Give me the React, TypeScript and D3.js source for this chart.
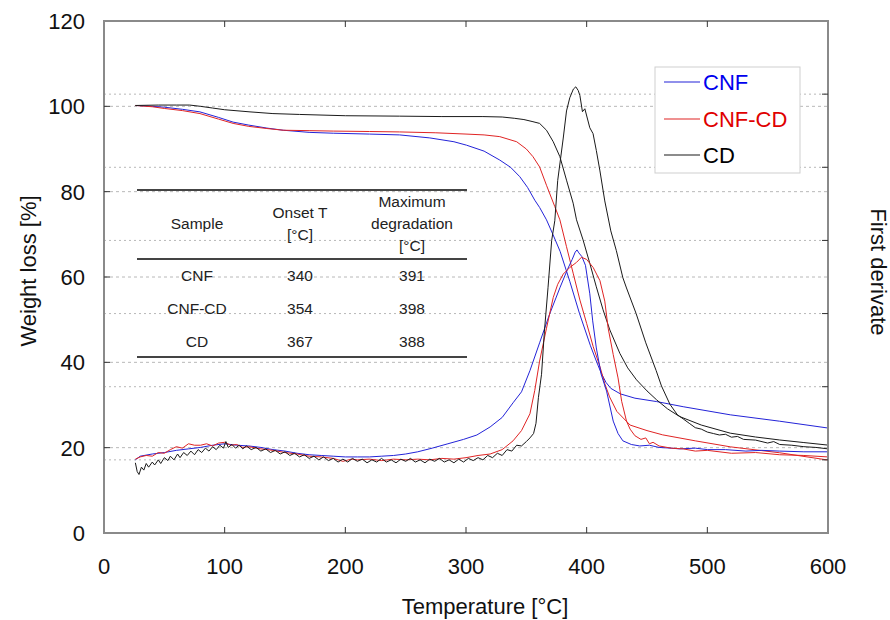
import React from "react";
import * as d3 from "d3";

// ---------- data ----------
const xTicks = [0, 100, 200, 300, 400, 500, 600];
const yTicks = [0, 20, 40, 60, 80, 100, 120];
const y2Ticks = [0, 1, 2, 3, 4, 5, 6, 7];

const seriesNames = ["CNF", "CNF-CD", "CD"];
const seriesColors = ["#2323d8", "#e02424", "#1a1a1a"];
const legendTextColors = ["#0000ee", "#e00000", "#000000"];

// TGA weight curves [T, weight %]
const cnfTga: [number, number][] = [
  [26, 100.2], [40, 100.0], [50, 99.8], [65, 99.3], [79.5, 98.7], [95, 97.4], [107, 96.3], [120, 95.6], [135, 94.9],
  [148.5, 94.4], [170, 93.9], [190, 93.7], [220, 93.5], [245, 93.3], [270, 92.6], [290, 91.7], [300.4, 90.9], [315, 89.5],
  [328, 87.4], [337, 85.7], [344.6, 83.5], [351, 81.0], [357, 78.0], [361, 76.3], [366.7, 73.4], [372, 70.0], [378, 66.0],
  [386, 59.0], [394, 51.5], [403, 44.0], [408, 40.3], [412, 37.5], [416, 35.3], [420, 33.9], [428, 32.6], [440, 31.6],
  [458, 30.8], [480, 29.6], [519, 27.7], [560, 26.2], [600, 24.6],
];
const cnfCdTga: [number, number][] = [
  [26, 100.2], [40, 99.9], [50, 99.5], [65, 99.0], [79.5, 98.3], [95, 97.0], [107, 96.0], [120, 95.3], [135, 94.8],
  [148.5, 94.4], [170, 94.3], [190, 94.2], [220, 94.1], [245, 94.0], [275, 93.8], [300, 93.5], [315, 93.3], [328, 92.9],
  [342, 91.7], [350, 90.0], [355.5, 88.2], [361, 85.8], [366.7, 81.5], [373.6, 76.5], [377.8, 73.4], [383.3, 67.1],
  [388.8, 60.9], [394.4, 54.6], [400, 49.1], [405.4, 43.7], [411, 39.0], [415, 35.0], [419, 31.9], [425, 28.5],
  [436, 25.3], [450, 24.0], [463, 23.0], [490, 21.6], [519, 20.2], [560, 18.8], [600, 17.1],
];
const cdTga: [number, number][] = [
  [26, 100.2], [45, 100.3], [60, 100.3], [71, 100.3], [80, 100.0], [90, 99.6], [100, 99.2], [121, 98.7], [140, 98.3],
  [162, 98.1], [200, 97.8], [245, 97.7], [280, 97.6], [314, 97.6], [330, 97.5], [340, 97.2], [348, 96.9], [355.5, 96.4],
  [361, 96.0], [366.7, 94.4], [372.3, 91.7], [377.8, 88.2], [383.3, 82.7], [388.8, 77.3], [391.6, 73.4], [397, 68.7],
  [402.6, 63.2], [408, 57.7], [413.6, 52.3], [419.2, 47.6], [427.5, 42.1], [434, 38.7], [441.3, 35.9], [450, 33.3],
  [458, 31.2], [467, 29.1], [477, 27.3], [495, 25.3], [519, 23.4], [540, 22.5], [560, 21.8], [580, 21.2], [600, 20.6],
];

// first-derivative curves [T, relative units on the right axis]
const cnfDtg: [number, number][] = [
  [26, 1.0], [30, 1.05], [40, 1.08], [50, 1.1], [60, 1.13], [70, 1.15], [80, 1.17], [90, 1.2], [100, 1.22], [110, 1.2],
  [120, 1.19], [130, 1.17], [140, 1.14], [150, 1.12], [160, 1.09], [170, 1.07], [180, 1.06], [190, 1.05], [200, 1.04],
  [210, 1.04], [220, 1.04], [230, 1.05], [240, 1.06], [250, 1.08], [260, 1.11], [272, 1.16], [285, 1.22], [298, 1.28],
  [309, 1.34], [320, 1.45], [330, 1.58], [339, 1.78], [346, 1.93], [353, 2.22], [361, 2.6], [369, 2.98], [378, 3.36],
  [384, 3.6], [388, 3.74], [390.5, 3.84], [392, 3.87], [393.5, 3.83], [396, 3.78], [399, 3.66], [402.6, 3.27], [405, 2.9],
  [408, 2.53], [412, 2.17], [416.5, 1.94], [422, 1.53], [426, 1.36], [430, 1.26], [437, 1.21], [444, 1.19], [452, 1.2],
  [460, 1.17], [470, 1.16], [477, 1.15], [490, 1.16], [500, 1.14], [515, 1.14], [532, 1.12], [545, 1.13], [560, 1.12],
  [580, 1.11], [600, 1.11],
];
const cnfCdDtg: [number, number][] = [
  [26, 1.01], [30, 1.04], [35, 1.06], [40, 1.05], [45, 1.1], [50, 1.09], [55, 1.14], [60, 1.18], [65, 1.16], [70, 1.22],
  [75, 1.2], [80, 1.2], [85, 1.22], [90, 1.19], [95, 1.23], [100, 1.24], [105, 1.2], [110, 1.21], [115, 1.17], [120, 1.18],
  [130, 1.15], [140, 1.13], [150, 1.1], [160, 1.08], [170, 1.05], [180, 1.04], [190, 1.02], [198, 0.98], [205, 1.01],
  [210, 1.0], [220, 1.01], [230, 0.99], [240, 1.01], [250, 1.0], [260, 1.01], [270, 1.0], [280, 1.02], [290, 1.01],
  [300, 1.03], [310, 1.06], [320, 1.08], [330, 1.14], [339, 1.26], [346, 1.4], [353, 1.63], [357, 1.95], [361, 2.35],
  [366.7, 2.8], [372.3, 3.22], [376, 3.4], [380.6, 3.54], [386, 3.63], [391.6, 3.7], [395.7, 3.77], [400, 3.74],
  [405.4, 3.63], [411, 3.45], [415, 3.17], [417.8, 2.8], [422, 2.44], [426, 2.12], [429, 1.8], [433, 1.53], [436, 1.42],
  [440, 1.33], [445, 1.28], [449, 1.3], [452, 1.22], [455, 1.24], [460, 1.19], [470, 1.16], [480, 1.15], [490, 1.12],
  [500, 1.13], [520, 1.09], [540, 1.1], [560, 1.07], [580, 1.06], [600, 1.04],
];
const cdDtg: [number, number][] = [
  [26, 0.96], [27.5, 0.84], [29, 0.8], [31, 0.9], [33, 0.86], [35, 0.95], [37, 0.9], [40, 0.97], [42, 0.93], [45, 1.0],
  [47, 0.95], [50, 1.03], [53, 0.99], [55, 1.05], [58, 1.0], [61, 1.08], [63, 1.03], [66, 1.1], [69, 1.06], [72, 1.12],
  [75, 1.07], [78, 1.14], [81, 1.1], [84, 1.16], [87, 1.12], [90, 1.18], [93, 1.14], [96, 1.2], [99, 1.16], [101, 1.25],
  [103, 1.17], [106, 1.21], [109, 1.16], [112, 1.2], [115, 1.15], [118, 1.19], [122, 1.14], [126, 1.17], [130, 1.12],
  [134, 1.15], [138, 1.1], [142, 1.13], [146, 1.08], [150, 1.11], [154, 1.06], [158, 1.09], [162, 1.04], [166, 1.07],
  [170, 1.02], [174, 1.05], [178, 1.0], [182, 1.04], [186, 0.99], [190, 1.02], [194, 0.97], [198, 1.01], [202, 0.97],
  [206, 1.02], [210, 0.98], [214, 1.01], [218, 0.96], [222, 1.0], [226, 0.97], [230, 1.02], [234, 0.97], [238, 1.0],
  [242, 0.96], [246, 1.01], [250, 0.98], [254, 1.02], [258, 0.97], [262, 1.0], [266, 0.96], [270, 1.01], [274, 0.98],
  [278, 1.02], [282, 0.97], [286, 1.0], [290, 0.96], [294, 1.01], [298, 0.97], [302, 1.02], [306, 0.99], [310, 1.03],
  [314, 1.0], [318, 1.06], [322, 1.03], [326, 1.09], [330, 1.06], [334, 1.14], [338, 1.12], [342, 1.2], [346, 1.19],
  [350, 1.25], [353, 1.3], [356, 1.36], [358, 1.5], [360, 1.85], [362.6, 2.17], [365, 2.76], [368, 3.36], [371, 4.0],
  [373.6, 4.27], [376, 4.82], [380.6, 5.4], [383.3, 5.77], [386, 5.95], [389, 6.07], [391, 6.1], [393, 6.05],
  [394.4, 5.98], [396.5, 5.76], [398.5, 5.8], [402.6, 5.54], [405.3, 5.46], [408, 5.23], [411, 4.95], [415, 4.54],
  [420, 4.13], [424.6, 3.86], [430, 3.49], [433, 3.35], [441, 3.0], [449, 2.6], [457.6, 2.22], [462, 2.01], [469, 1.76],
  [475, 1.62], [480, 1.56], [485, 1.5], [490, 1.44], [495, 1.42], [500, 1.38], [505, 1.36], [510, 1.34], [515, 1.35],
  [520, 1.31], [525, 1.32], [530, 1.28], [540, 1.27], [550, 1.23], [555, 1.25], [560, 1.21], [570, 1.2], [580, 1.18],
  [590, 1.17], [600, 1.15],
];

// table
const tableHeader1 = ["Sample"];
const tableHeader2 = ["Onset T", "[°C]"];
const tableHeader3 = ["Maximum", "degradation", "[°C]"];
const tableSamples = ["CNF", "CNF-CD", "CD"];
const tableOnset = ["340", "354", "367"];
const tableMaxDeg = ["391", "398", "388"];

// ---------- chart ----------
const W = 890;
const H = 620;
const FONT = "'Liberation Sans', Arial, Helvetica, sans-serif";

export default function App() {
  const x = d3.scaleLinear().domain([0, 600]).range([104, 828]);
  const y = d3.scaleLinear().domain([0, 120]).range([533, 21]);
  const y2 = d3.scaleLinear().domain([0, 7]).range([533, 21]);

  const lineW = d3.line<[number, number]>().x((d) => x(d[0])).y((d) => y(d[1]));
  const lineD = d3.line<[number, number]>().x((d) => x(d[0])).y((d) => y2(d[1]));

  const tga = [cnfTga, cnfCdTga, cdTga];
  const dtg = [cnfDtg, cnfCdDtg, cdDtg];

  const [x0, x1] = x.range();
  const [yb, yt] = y.range();
  const tickLen = 6;
  const axisColor = "#8a8a8a";
  const tickColor = "#333";
  const gridColor = "#b8b8b8";

  // table geometry
  const tL = 137, tR = 467;
  const colX = [197, 300, 412];
  const rowY = [276, 309, 342];

  const legendX = 655, legendY = 67, legendW = 145, legendH = 106;
  const legendRows = [82, 119, 155];

  return (
    <div style={{ position: "absolute", left: 0, top: 0 }}>
      <svg width={W} height={H} style={{ display: "block", background: "#fff" }} fontFamily={FONT}>
        {/* gridlines */}
        {yTicks.filter((t) => t > 0 && t < 120).map((t) => (
          <line key={"gl" + t} x1={x0} x2={x1} y1={y(t)} y2={y(t)} stroke={gridColor} strokeWidth={1} strokeDasharray="3,3" />
        ))}
        {y2Ticks.filter((t) => t > 0 && t < 7).map((t) => (
          <line key={"gr" + t} x1={x0} x2={x1} y1={y2(t)} y2={y2(t)} stroke={gridColor} strokeWidth={1} strokeDasharray="2,3" />
        ))}

        {/* table */}
        <g fill="#222" fontSize={15.5} textAnchor="middle">
          <line x1={tL} x2={tR} y1={190} y2={190} stroke="#444" strokeWidth={2} />
          <line x1={tL} x2={tR} y1={259} y2={259} stroke="#444" strokeWidth={2} />
          <line x1={tL} x2={tR} y1={357} y2={357} stroke="#444" strokeWidth={2} />
          {tableHeader1.map((s, i) => (
            <text key={"h1" + i} x={colX[0]} y={229}>{s}</text>
          ))}
          {tableHeader2.map((s, i) => (
            <text key={"h2" + i} x={colX[1]} y={218 + i * 22}>{s}</text>
          ))}
          {tableHeader3.map((s, i) => (
            <text key={"h3" + i} x={colX[2]} y={207 + i * 22}>{s}</text>
          ))}
          {tableSamples.map((s, i) => (
            <g key={"r" + i}>
              <text x={colX[0]} y={rowY[i] + 5}>{s}</text>
              <text x={colX[1]} y={rowY[i] + 5}>{tableOnset[i]}</text>
              <text x={colX[2]} y={rowY[i] + 5}>{tableMaxDeg[i]}</text>
            </g>
          ))}
        </g>

        {/* curves */}
        <g fill="none" strokeWidth={1} strokeLinejoin="round">
          {tga.map((s, i) => (
            <path key={"t" + i} d={lineW(s) || ""} stroke={seriesColors[i]} />
          ))}
          {dtg.map((s, i) => (
            <path key={"d" + i} d={lineD(s) || ""} stroke={seriesColors[i]} />
          ))}
        </g>

        {/* frame */}
        <rect x={x0} y={yt} width={x1 - x0} height={yb - yt} fill="none" stroke={axisColor} strokeWidth={2} />

        {/* ticks */}
        <g stroke={tickColor} strokeWidth={1}>
          {xTicks.filter((t) => t > 0 && t < 600).map((t) => (
            <g key={"xt" + t}>
              <line x1={x(t)} x2={x(t)} y1={yb} y2={yb - tickLen} />
              <line x1={x(t)} x2={x(t)} y1={yt} y2={yt + tickLen} />
            </g>
          ))}
          {yTicks.filter((t) => t > 0 && t < 120).map((t) => (
            <line key={"yt" + t} x1={x0} x2={x0 + tickLen} y1={y(t)} y2={y(t)} />
          ))}
          {y2Ticks.filter((t) => t > 0 && t < 7).map((t) => (
            <line key={"y2t" + t} x1={x1} x2={x1 - tickLen} y1={y2(t)} y2={y2(t)} />
          ))}
        </g>

        {/* tick labels */}
        <g fontSize={22} fill="#111">
          {xTicks.map((t) => (
            <text key={"xl" + t} x={x(t)} y={574} textAnchor="middle">{t}</text>
          ))}
          {yTicks.map((t) => (
            <text key={"yl" + t} x={85} y={y(t) + 8} textAnchor="end">{t}</text>
          ))}
        </g>

        {/* axis titles */}
        <text x={485} y={614} fontSize={22} textAnchor="middle" fill="#111">Temperature [°C]</text>
        <text transform="translate(36,271) rotate(-90)" fontSize={22} textAnchor="middle" fill="#111">Weight loss [%]</text>
        <text transform="translate(871,272) rotate(90)" fontSize={22} textAnchor="middle" fill="#111">First derivate</text>

        {/* legend */}
        <rect x={legendX} y={legendY} width={legendW} height={legendH} fill="#fff" stroke="#cfcfcf" strokeWidth={1} />
        {seriesNames.map((n, i) => (
          <g key={"lg" + i}>
            <line x1={664} x2={700} y1={legendRows[i]} y2={legendRows[i]} stroke={seriesColors[i]} strokeWidth={1.2} />
            <text x={703} y={legendRows[i] + 8} fontSize={22} fill={legendTextColors[i]}>{n}</text>
          </g>
        ))}
      </svg>
    </div>
  );
}
